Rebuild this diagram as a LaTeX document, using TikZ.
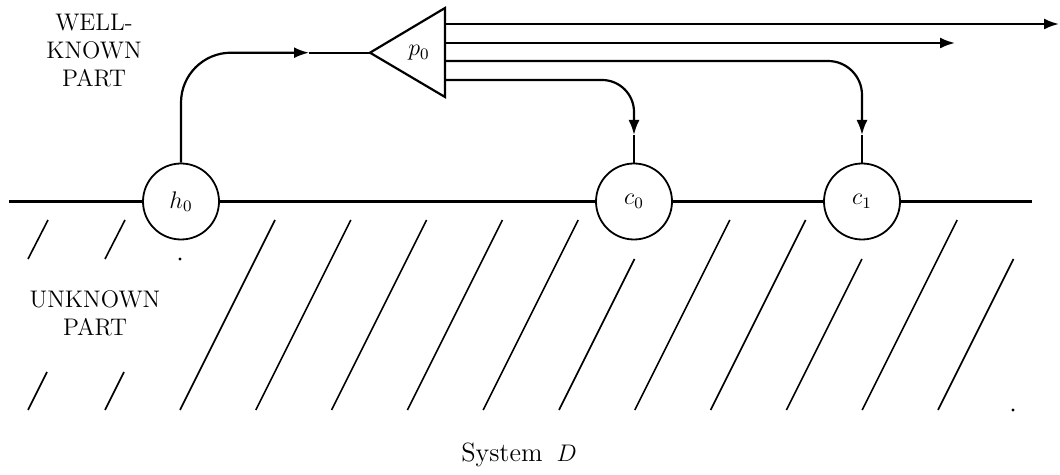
\documentclass[tikz,border=0pt]{standalone}
\usetikzlibrary{arrows.meta}
\begin{document}
\begin{tikzpicture}[x=0.5pt,y=-0.5pt,
  lab/.style={font=\fontsize{12}{14}\selectfont, align=center, inner sep=0pt},
  station/.style={circle, draw, line width=0.9pt, minimum size=38pt, inner sep=0pt, font=\fontsize{12}{14}\selectfont},
  wire/.style={line width=1.1pt},
  arr/.style={-{Latex[length=7.5pt,width=5.5pt]}},
  hatch/.style={line width=0.8pt},
]
\useasboundingbox (0,0) rectangle (1060,475);

% stations on the boundary
\node[station] (h0) at (181,201.5) {$h_0$};
\node[station] (c0) at (634,201.5) {$c_0$};
\node[station] (c1) at (862,201.5) {$c_1$};

% boundary line
\coordinate (bl) at (9,201.5);
\coordinate (br) at (1032,201.5);
\draw[wire] (bl) -- (h0.west) (h0.east) -- (c0.west) (c0.east) -- (c1.west) (c1.east) -- (br);

% triangle p0
\coordinate (tip) at (370,52.7);
\coordinate (ttop) at (445,8);
\coordinate (tbot) at (445,97);
\draw[wire, line join=miter] (tip) -- (ttop) -- (tbot) -- cycle;
\node[lab] (p0) at (419,53) {$p_0$};

% input from h0
\coordinate (inarr) at (309,52.7);
\draw[wire, arr, rounded corners=25pt] (h0.north) |- (inarr);
\draw[wire] (inarr) -- (tip);

% outputs
\coordinate (o1) at (445,24);
\coordinate (o2) at (445,43);
\coordinate (o3) at (445,61);
\coordinate (o4) at (445,80);
\coordinate (e1) at (1059,24);
\coordinate (e2) at (955,43);
\coordinate (a1) at (862,135);
\coordinate (a0) at (634,135);
\draw[wire, arr] (o1) -- (e1);
\draw[wire, arr] (o2) -- (e2);
\draw[wire, arr, rounded corners=17pt] (o3) -| (a1);
\draw[wire] (a1) -- (c1.north);
\draw[wire, arr, rounded corners=16pt] (o4) -| (a0);
\draw[wire] (a0) -- (c0.north);

% hatching of the unknown part
\foreach \b in {180,255.8,331.6,407.4,483.2,634.8,710.6,862.2}
  \draw[hatch] ({\b},410) -- ({\b+95},220);
\foreach \b in {559,786.4,938}
  \draw[hatch] ({\b},410) -- ({\b+75.5},259);
\draw[hatch] (28,259) -- (48,220);
\draw[hatch] (105,259) -- (125,220);
\draw[hatch] (28,410) -- (47,372);
\draw[hatch] (105,410) -- (124,372);
\fill (180,259) circle (0.8pt);
\fill (1013,410) circle (0.8pt);

% texts
\node[lab] (wk) at (94,50.5) {WELL-\\KNOWN\\PART};
\node[lab] (uk) at (95,313) {UNKNOWN\\PART};
\node[lab, anchor=base, font=\fontsize{13.2}{15}\selectfont] (sys) at (519,462) {System\hspace{7pt}$D$};
\end{tikzpicture}
\end{document}
